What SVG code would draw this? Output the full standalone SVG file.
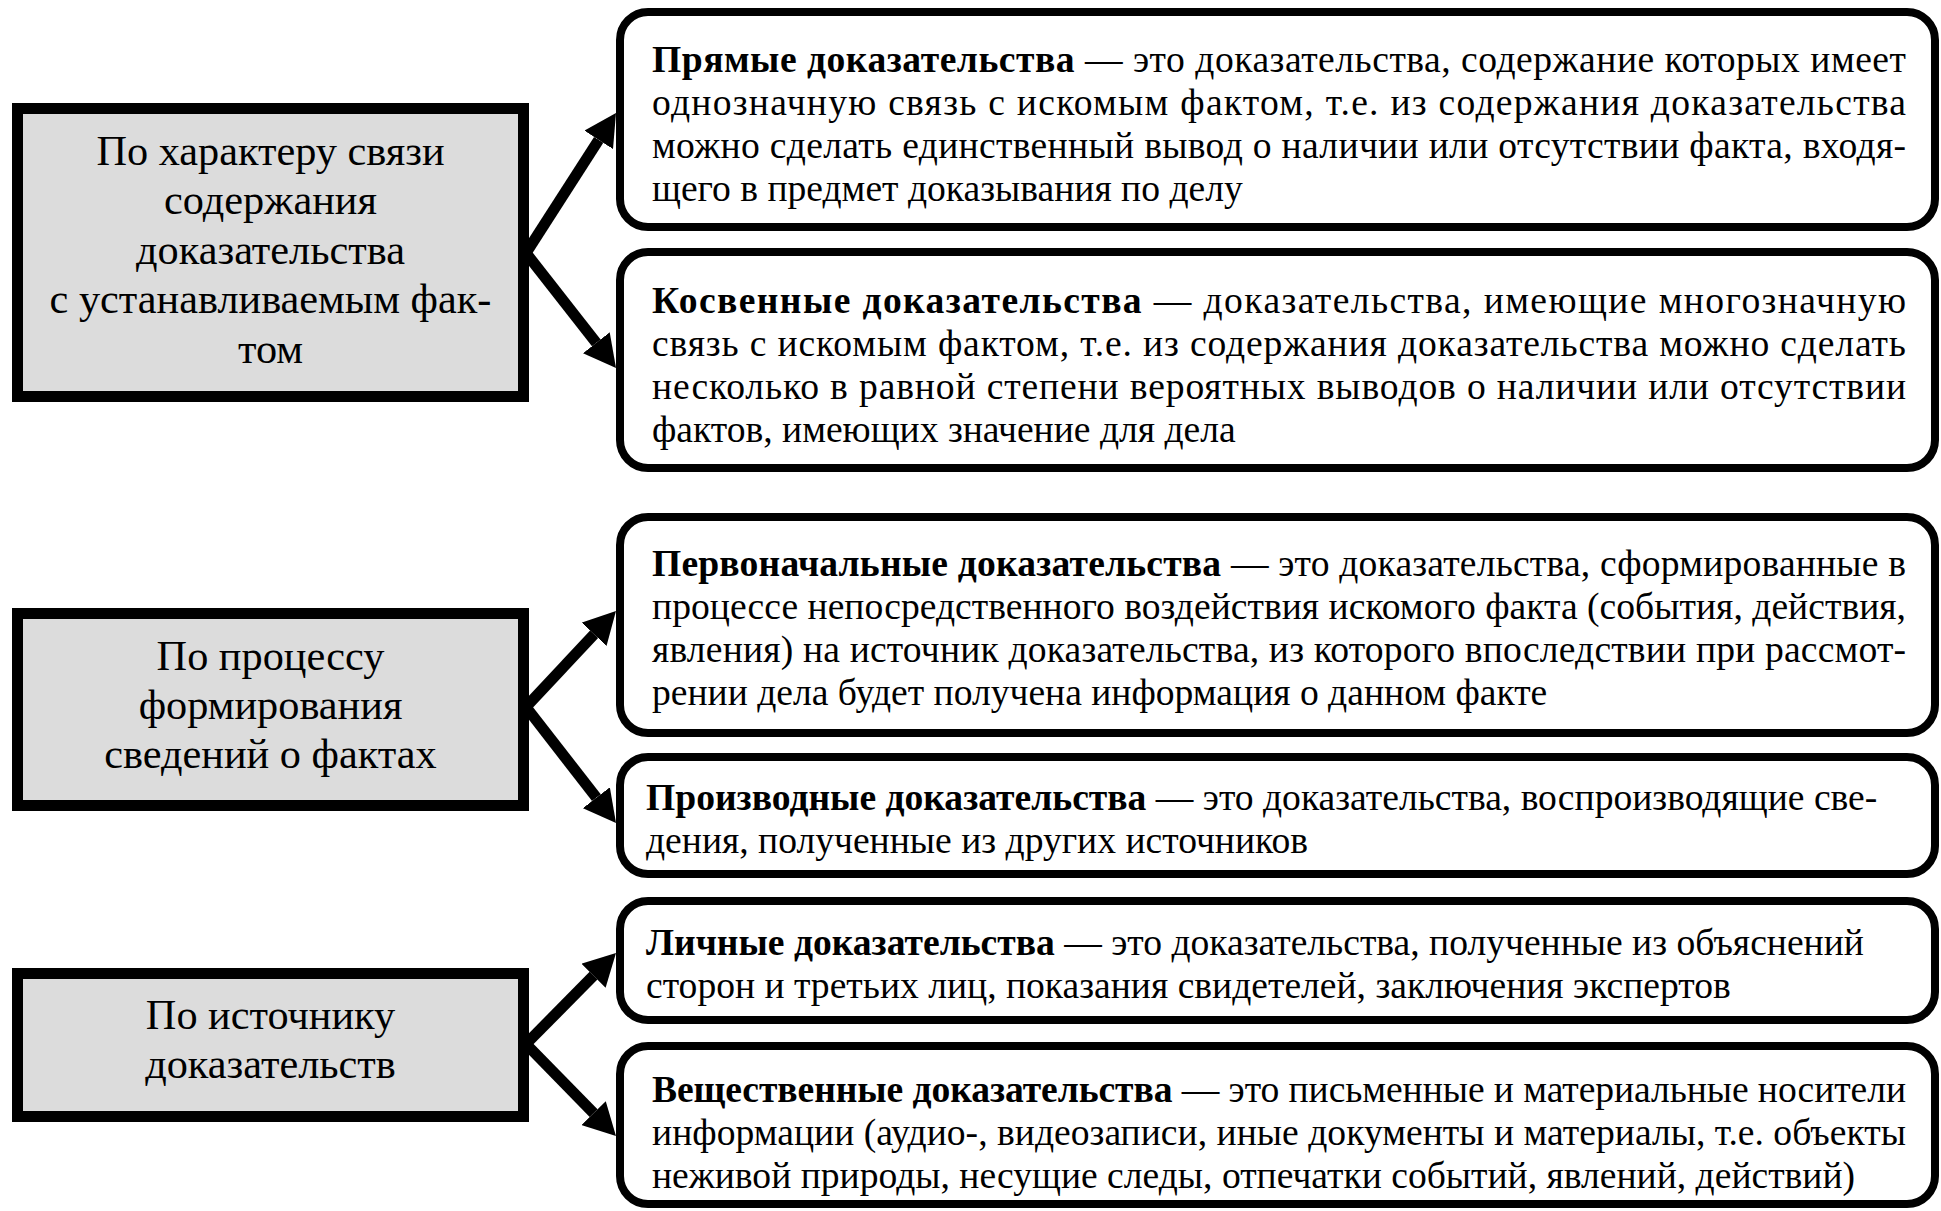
<svg xmlns="http://www.w3.org/2000/svg" width="1941" height="1211" viewBox="0 0 1941 1211">
<defs>
<style>
.cat{fill:#dcdcdc;stroke:#000;stroke-width:11}
.def{fill:#fff;stroke:#000;stroke-width:8}
.ct{font-family:"Liberation Serif","Times New Roman",serif;font-size:42.3px;fill:#000;text-anchor:middle}
.dt{font-family:"Liberation Serif","Times New Roman",serif;font-size:37.6px;fill:#000}
.b{font-weight:bold}
.conn{fill:none;stroke:#000;stroke-width:11;stroke-linecap:butt}
</style>
<marker id="ah" markerUnits="userSpaceOnUse" markerWidth="32" markerHeight="34" refX="0" refY="17" orient="auto" viewBox="0 0 32 34">
<path d="M0,0 L32,17 L0,34 z" fill="#000"/>
</marker>
</defs>
<rect width="1941" height="1211" fill="#fff"/>
<g id="connectors">
<line class="conn" x1="526" y1="253" x2="598.7" y2="139.9" marker-end="url(#ah)"/>
<line class="conn" x1="526" y1="253" x2="596.3" y2="342.8" marker-end="url(#ah)"/>
<line class="conn" x1="526" y1="707" x2="594.1" y2="634.3" marker-end="url(#ah)"/>
<line class="conn" x1="526" y1="707" x2="596.4" y2="797.7" marker-end="url(#ah)"/>
<line class="conn" x1="526" y1="1044" x2="593.5" y2="975.7" marker-end="url(#ah)"/>
<line class="conn" x1="526" y1="1044" x2="593.6" y2="1113.1" marker-end="url(#ah)"/>
</g>
<g id="cat1">
<rect class="cat" x="17.5" y="108.5" width="506" height="288"/>
<text class="ct" x="270.5" y="164.5">По характеру связи</text>
<text class="ct" x="270.5" y="214">содержания</text>
<text class="ct" x="270.5" y="263.5">доказательства</text>
<text class="ct" x="270.5" y="313">с устанавливаемым фак-</text>
<text class="ct" x="270.5" y="362.5">том</text>
</g>
<g id="cat2">
<rect class="cat" x="17.5" y="613.5" width="506" height="192"/>
<text class="ct" x="270.5" y="669.5">По процессу</text>
<text class="ct" x="270.5" y="718.5">формирования</text>
<text class="ct" x="270.5" y="767.5">сведений о фактах</text>
</g>
<g id="cat3">
<rect class="cat" x="17.5" y="973.5" width="506" height="143"/>
<text class="ct" x="270.5" y="1028.5">По источнику</text>
<text class="ct" x="270.5" y="1077.5">доказательств</text>
</g>
<g id="def1">
<rect class="def" x="620" y="12" width="1315" height="215" rx="28" ry="28"/>
<text class="dt" x="652" y="71.5" textLength="1254" lengthAdjust="spacing"><tspan class="b">Прямые доказательства</tspan> — это доказательства, содержание которых имеет</text>
<text class="dt" x="652" y="114.5" textLength="1254" lengthAdjust="spacing">однозначную связь с искомым фактом, т.е. из содержания доказательства</text>
<text class="dt" x="652" y="157.5" textLength="1254" lengthAdjust="spacing">можно сделать единственный вывод о наличии или отсутствии факта, входя-</text>
<text class="dt" x="652" y="200.5">щего в предмет доказывания по делу</text>
</g>
<g id="def2">
<rect class="def" x="620" y="252" width="1315" height="216" rx="28" ry="28"/>
<text class="dt" x="652" y="312.5" textLength="1254" lengthAdjust="spacing"><tspan class="b">Косвенные доказательства</tspan> — доказательства, имеющие многозначную</text>
<text class="dt" x="652" y="355.5" textLength="1254" lengthAdjust="spacing">связь с искомым фактом, т.е. из содержания доказательства можно сделать</text>
<text class="dt" x="652" y="398.5" textLength="1254" lengthAdjust="spacing">несколько в равной степени вероятных выводов о наличии или отсутствии</text>
<text class="dt" x="652" y="441.5">фактов, имеющих значение для дела</text>
</g>
<g id="def3">
<rect class="def" x="620" y="517" width="1315" height="216" rx="28" ry="28"/>
<text class="dt" x="652" y="575.5" textLength="1254" lengthAdjust="spacing"><tspan class="b">Первоначальные доказательства</tspan> — это доказательства, сформированные в</text>
<text class="dt" x="652" y="618.5" textLength="1254" lengthAdjust="spacing">процессе непосредственного воздействия искомого факта (события, действия,</text>
<text class="dt" x="652" y="661.5" textLength="1254" lengthAdjust="spacing">явления) на источник доказательства, из которого впоследствии при рассмот-</text>
<text class="dt" x="652" y="704.5">рении дела будет получена информация о данном факте</text>
</g>
<g id="def4">
<rect class="def" x="620" y="757" width="1315" height="117" rx="28" ry="28"/>
<text class="dt" x="646" y="809.5"><tspan class="b">Производные доказательства</tspan> — это доказательства, воспроизводящие све-</text>
<text class="dt" x="646" y="852.5">дения, полученные из других источников</text>
</g>
<g id="def5">
<rect class="def" x="620" y="901" width="1315" height="119" rx="28" ry="28"/>
<text class="dt" x="646" y="954.5"><tspan class="b">Личные доказательства</tspan> — это доказательства, полученные из объяснений</text>
<text class="dt" x="646" y="997.5">сторон и третьих лиц, показания свидетелей, заключения экспертов</text>
</g>
<g id="def6">
<rect class="def" x="620" y="1046" width="1315" height="158" rx="28" ry="28"/>
<text class="dt" x="652" y="1101.5" textLength="1254" lengthAdjust="spacing"><tspan class="b">Вещественные доказательства</tspan> — это письменные и материальные носители</text>
<text class="dt" x="652" y="1144.5" textLength="1254" lengthAdjust="spacing">информации (аудио-, видеозаписи, иные документы и материалы, т.е. объекты</text>
<text class="dt" x="652" y="1187.5">неживой природы, несущие следы, отпечатки событий, явлений, действий)</text>
</g>
</svg>
